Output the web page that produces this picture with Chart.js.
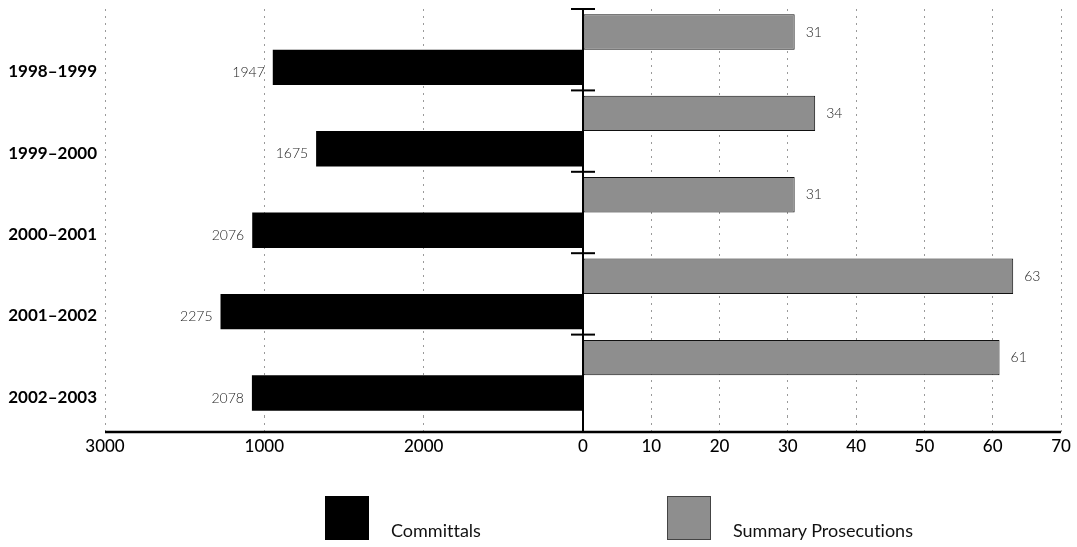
<!DOCTYPE html>
<html>
<head>
<meta charset="utf-8">
<script src="https://cdn.jsdelivr.net/npm/chart.js@4/dist/chart.umd.min.js"></script>
<style>
  body { margin: 0; background: #fff; }
  #wrap { position: relative; width: 1077px; height: 547px; }
  .key { position: absolute; width: 44px; height: 44px; box-sizing: border-box; }
  .keyText { position: absolute; font: 18px Lato, sans-serif; color: #111; line-height: 20px; font-variant-ligatures: none; }
</style>
</head>
<body>
<div id="wrap">
  <canvas id="grafico"></canvas>
  <div class="key" style="left:325px; top:496px; background:#000;"></div>
  <div class="keyText" style="left:391px; top:520px;">Committals</div>
  <div class="key" style="left:667px; top:496px; background:#8e8e8e; border:1px solid #444;"></div>
  <div class="keyText" style="left:733px; top:520px;">Summary Prosecutions</div>
</div>
<script>
// categorias y valores
const periodos = ['1998–1999', '1999–2000', '2000–2001', '2001–2002', '2002–2003'];
const committals = [1947, 1675, 2076, 2275, 2078];
const summaryProsecutions = [31, 34, 31, 63, 61];

// etiquetas del eje izquierdo tal como aparecen (van de 3000 a 0)
const committalTickValues = [3000, 2000, 1000, 0];
const committalTickLabels = ['3000', '1000', '2000', ''];

Chart.defaults.font.family = 'Lato, sans-serif';

const gridColor = (ctx) => ctx.tick && ctx.tick.value === 0 ? 'rgba(0,0,0,0)' : '#9a9a9a';

// eje central, cruces entre categorias y linea base
const ejeCentral = {
    id: 'ejeCentral',
    afterDatasetsDraw(chart) {
        const { ctx, chartArea } = chart;
        const y = chart.scales.y;
        const x0 = chart.scales.xR.getPixelForValue(0);
        const base = chartArea.bottom + 16;
        const mitad = (y.getPixelForValue(1) - y.getPixelForValue(0)) / 2;
        ctx.save();
        ctx.strokeStyle = '#000';
        ctx.lineWidth = 2.5;
        ctx.beginPath();
        ctx.moveTo(chartArea.left, base);
        ctx.lineTo(chartArea.right, base);
        ctx.stroke();
        ctx.lineWidth = 2;
        ctx.beginPath();
        ctx.moveTo(x0, chartArea.top);
        ctx.lineTo(x0, base);
        ctx.stroke();
        for (let i = 0; i < periodos.length; i++) {
            const yy = y.getPixelForValue(i) - mitad;
            ctx.beginPath();
            ctx.moveTo(x0 - 12, yy);
            ctx.lineTo(x0 + 12, yy);
            ctx.stroke();
        }
        ctx.restore();
    }
};

// numeros junto a cada barra
const valores = {
    id: 'valores',
    afterDatasetsDraw(chart) {
        const ctx = chart.ctx;
        ctx.save();
        ctx.font = '300 14px Lato, sans-serif';
        ctx.fillStyle = '#222';
        ctx.textBaseline = 'middle';
        chart.data.datasets.forEach((ds, i) => {
            const meta = chart.getDatasetMeta(i);
            meta.data.forEach((bar, j) => {
                if (ds.xAxisID === 'xL') {
                    ctx.textAlign = 'right';
                    ctx.fillText(ds.data[j], bar.x - 8, bar.y + 5);
                } else {
                    ctx.textAlign = 'left';
                    ctx.fillText(ds.data[j], bar.x + 11, bar.y);
                }
            });
        });
        ctx.restore();
    }
};

new Chart(document.getElementById('grafico'), {
    type: 'bar',
    data: {
        labels: periodos,
        datasets: [{
            label: 'Summary Prosecutions',
            data: summaryProsecutions,
            xAxisID: 'xR',
            backgroundColor: '#8e8e8e',
            borderColor: '#111',
            borderWidth: 1,
            borderSkipped: false
        }, {
            label: 'Committals',
            data: committals,
            xAxisID: 'xL',
            backgroundColor: '#000',
            borderWidth: 0
        }]
    },
    options: {
        indexAxis: 'y',
        responsive: true,
        maintainAspectRatio: false,
        animation: false,
        layout: { padding: { top: 9, right: 16, bottom: 91, left: 0 } },
        datasets: { bar: { categoryPercentage: 0.87, barPercentage: 1 } },
        plugins: { legend: { display: false }, tooltip: { enabled: false } },
        scales: {
            xL: {
                type: 'linear',
                position: 'bottom',
                stack: 'x',
                stackWeight: 1,
                reverse: true,
                min: 0,
                max: 3000,
                afterBuildTicks: (scale) => { scale.ticks = committalTickValues.map(v => ({ value: v })); },
                afterFit: (scale) => { scale.height = 40; },
                grid: { color: gridColor, tickColor: gridColor, tickLength: 16, tickBorderDash: [2, 5] },
                border: { display: false, dash: [2, 5] },
                ticks: {
                    padding: 4,
                    color: '#000',
                    font: { size: 17, weight: '500' },
                    maxRotation: 0,
                    autoSkip: false,
                    callback: (v) => committalTickLabels[committalTickValues.indexOf(v)]
                }
            },
            xR: {
                type: 'linear',
                position: 'bottom',
                stack: 'x',
                stackWeight: 1,
                min: 0,
                max: 70,
                afterFit: (scale) => { scale.height = 40; },
                grid: { color: gridColor, tickColor: gridColor, tickLength: 16, tickBorderDash: [2, 5] },
                border: { display: false, dash: [2, 5] },
                ticks: {
                    stepSize: 10,
                    padding: 4,
                    color: '#000',
                    font: { size: 17, weight: '500' },
                    maxRotation: 0,
                    autoSkip: false
                }
            },
            y: {
                position: 'left',
                afterFit: (scale) => {
                    scale.width = 105;
                    scale.paddingTop = 0;
                    scale.paddingBottom = 0;
                },
                grid: { display: false, drawTicks: false },
                border: { display: false },
                ticks: {
                    padding: 8,
                    labelOffset: 22,
                    color: '#000',
                    font: { size: 17, weight: 'bold' }
                }
            }
        }
    },
    plugins: [ejeCentral, valores]
});
</script>
</body>
</html>
